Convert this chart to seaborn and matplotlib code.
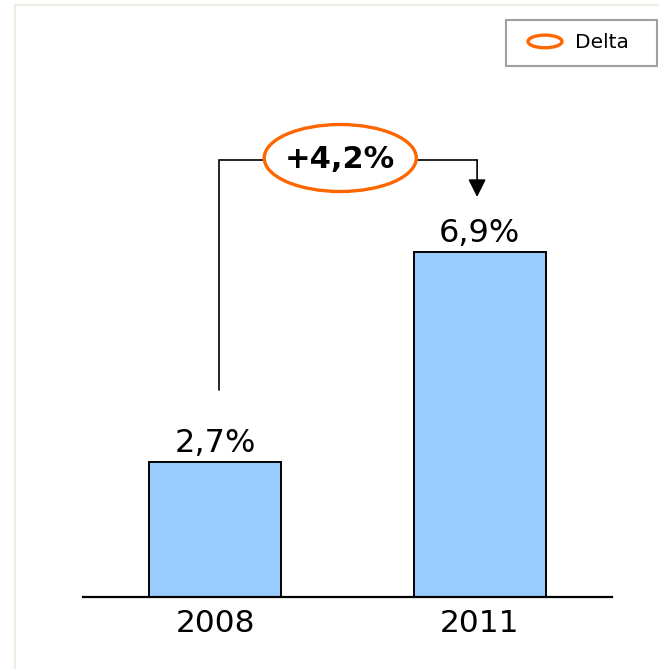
import matplotlib
matplotlib.use("Agg")
import matplotlib.pyplot as plt
from matplotlib.patches import Ellipse, Rectangle
from matplotlib.lines import Line2D
from matplotlib.legend_handler import HandlerPatch
import pandas as pd
import seaborn as sns

years = ["2008", "2011"]
shares = [2.7, 6.9]
legend_label = "Delta"

sns.set_theme(style="white")
plt.rcParams["font.family"] = ["DejaVu Sans"]

W, H = 659, 669
fig = plt.figure(figsize=(W / 100, H / 100), dpi=100)
fig.patch.set_facecolor("white")

# axes: baseline at y=597 px, 50 px per percentage point
ax = fig.add_axes([83 / W, (H - 597) / H, (612 - 83) / W, 500 / H])

df = pd.DataFrame({"year": years, "share": shares})
sns.barplot(data=df, x="year", y="share", color="#99CCFF", saturation=1,
            edgecolor="black", linewidth=1.4, width=0.5, ax=ax)

ax.set_xlim(-0.5, 1.5)
ax.set_ylim(0, 10)
ax.set_xlabel("")
ax.set_ylabel("")
ax.set_yticks([])
for side in ("left", "right", "top"):
    ax.spines[side].set_visible(False)
ax.spines["bottom"].set_color("black")
ax.spines["bottom"].set_linewidth(1.6)
ax.tick_params(axis="x", length=0, labelsize=22.5, pad=9, colors="black")
ax.set_facecolor("none")


def fmt(v):
    return f"{v:.1f}%".replace(".", ",")


for i, v in enumerate(shares):
    ax.annotate(fmt(v), xy=(i, v), xytext=(0, 7), textcoords="offset points",
                ha="center", va="baseline", fontsize=23, color="black")

# change bracket from the first bar to the second
delta = shares[1] - shares[0]
y_br = 8.74
x_left, x_right = 0.015, 0.99
ax.plot([x_left, x_left, x_right], [4.14, y_br, y_br], color="black",
        lw=1.2, solid_joinstyle="miter", zorder=3)
ax.annotate("", xy=(x_right, 8.0), xytext=(x_right, y_br),
            arrowprops=dict(arrowstyle="-|>,head_length=0.6,head_width=0.3",
                            mutation_scale=18, color="black", lw=1.2,
                            shrinkA=0, shrinkB=0), zorder=3)
ell = Ellipse((0.4726, 8.78), width=0.575, height=1.34, facecolor="white",
              edgecolor="#FF6600", lw=2.4, zorder=4)
ax.add_patch(ell)
sign = "+" if delta >= 0 else "-"
ax.text(0.4726, 8.58, sign + fmt(abs(delta)), ha="center", va="baseline",
        fontsize=22, fontweight="bold", color="black", zorder=5)


class HandlerEllipse(HandlerPatch):
    def create_artists(self, legend, orig_handle, xdescent, ydescent,
                       width, height, fontsize, trans):
        cx = 0.5 * width - xdescent
        cy = 0.5 * height - ydescent
        p = Ellipse((cx, cy), width=width, height=height * 0.9,
                    facecolor="white", edgecolor="#FF6600", lw=2.4)
        self.update_prop(p, orig_handle, legend)
        p.set_transform(trans)
        return [p]


fs_leg = 14.5
fs_px = fs_leg * 100 / 72
proxy = Ellipse((0, 0), 1, 1, facecolor="white", edgecolor="#FF6600", lw=2.4)
leg = fig.legend([proxy], [legend_label], loc="center left",
                 bbox_to_anchor=(528 / W, 1 - 43 / H),
                 bbox_transform=fig.transFigure, borderaxespad=0,
                 frameon=False, fontsize=fs_leg,
                 handler_map={Ellipse: HandlerEllipse()},
                 handlelength=34 / fs_px, handleheight=14 / fs_px,
                 handletextpad=13 / fs_px, borderpad=0)
for t in leg.get_texts():
    t.set_color("black")

# legend box
fig.add_artist(Rectangle((506 / W, 1 - 66 / H), 151 / W, 46 / H,
                         transform=fig.transFigure, facecolor="none",
                         edgecolor="#A0A0A0", lw=1.5))

# light outer frame along the top and left edges
frame_color = "#EEEDE4"
fig.add_artist(Line2D([15 / W, 15 / W], [0, 1 - 5 / H], transform=fig.transFigure,
                      color=frame_color, lw=1.6))
fig.add_artist(Line2D([15 / W, 1], [1 - 5 / H, 1 - 5 / H], transform=fig.transFigure,
                      color=frame_color, lw=1.6))

fig.savefig("out.png", dpi=100, facecolor="white")
